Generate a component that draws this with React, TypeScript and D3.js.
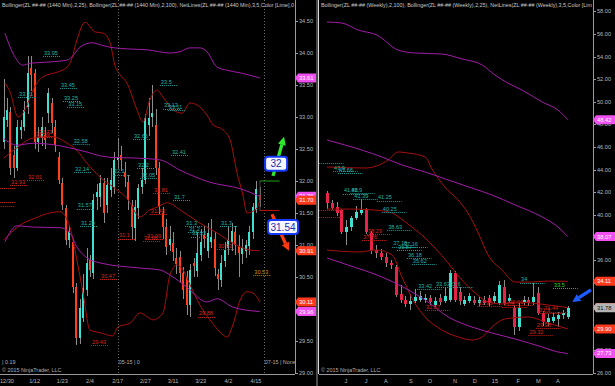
import * as d3 from 'd3';

type Bar = [number, number, number, number]; // open, high, low, close
type Pt = [number, number]; // bar index, price
type Level = [string, number, number]; // label, price, first bar
type Marker = [number, string]; // price, kind

// ---------- daily panel (12/29 .. 4/16) ----------
const dailyBars: Bar[] = [
  [32.61, 33.6, 32.5, 33.0], [32.95, 33.3, 32.85, 33.11], [33.08, 33.15, 32.1, 32.2], [32.41, 32.55, 32.05, 32.2],
  [32.2, 32.95, 32.15, 32.84], [32.8, 32.95, 32.65, 32.84], [32.84, 33.25, 32.78, 33.11], [33.16, 33.95, 33.05, 33.69],
  [33.77, 33.95, 33.4, 33.66], [33.69, 33.75, 32.5, 32.61], [32.61, 32.85, 32.45, 32.69], [32.69, 33.0, 32.55, 32.84],
  [32.72, 32.85, 32.5, 32.64], [33.06, 33.45, 32.9, 33.38], [33.22, 33.3, 32.75, 32.91], [32.84, 32.95, 32.45, 32.56],
  [32.38, 32.45, 31.95, 32.02], [31.97, 32.05, 31.55, 31.63], [31.58, 31.62, 31.0, 31.08], [31.08, 31.3, 30.95, 31.2],
  [31.05, 31.1, 30.25, 30.34], [30.34, 30.4, 29.43, 29.55], [29.55, 30.15, 29.45, 30.02], [29.86, 30.55, 29.8, 30.33],
  [30.3, 30.95, 30.2, 30.72], [30.77, 30.85, 30.5, 30.61], [30.56, 31.8, 30.47, 31.7], [31.75, 31.95, 31.55, 31.83],
  [31.75, 32.1, 31.6, 31.97], [31.97, 32.05, 31.35, 31.5], [31.63, 32.05, 31.5, 31.94], [31.86, 32.2, 31.75, 32.02],
  [31.91, 32.45, 31.8, 32.33], [32.33, 32.67, 32.2, 32.38], [32.41, 32.55, 32.15, 32.33], [32.14, 32.3, 31.9, 32.06],
  [31.98, 32.1, 31.55, 31.7], [31.63, 31.7, 31.1, 31.28], [31.27, 31.7, 31.06, 31.6], [31.58, 31.95, 31.4, 31.89],
  [31.91, 32.2, 31.8, 32.02], [32.02, 33.05, 31.95, 32.98], [32.87, 33.3, 32.7, 32.98], [33.0, 33.5, 32.85, 33.06],
  [32.88, 33.13, 32.1, 32.2], [32.2, 32.3, 31.48, 31.6], [31.5, 31.6, 31.1, 31.28], [31.28, 31.4, 30.85, 30.97],
  [31.0, 31.3, 30.9, 31.1], [31.03, 31.2, 30.75, 30.89], [30.8, 30.95, 30.55, 30.7], [30.81, 30.9, 30.4, 30.56],
  [30.56, 30.65, 30.15, 30.3], [30.5, 30.6, 29.9, 30.06], [30.06, 30.7, 29.88, 30.61], [30.72, 30.8, 30.5, 30.67],
  [30.6, 31.2, 30.5, 30.88], [30.85, 31.25, 30.75, 31.05], [31.15, 31.3, 30.95, 31.1], [30.9, 31.35, 30.8, 31.18],
  [31.05, 31.4, 30.95, 31.12], [31.1, 31.2, 30.52, 30.64], [30.55, 30.62, 30.3, 30.47], [30.45, 30.85, 30.35, 30.72],
  [30.75, 31.05, 30.65, 30.92], [30.95, 31.3, 30.85, 31.08], [31.05, 31.35, 30.9, 31.22], [31.2, 31.3, 30.85, 31.0],
  [30.98, 31.15, 30.5, 30.88], [30.86, 31.1, 30.7, 30.95], [30.9, 31.08, 30.8, 31.0], [30.98, 31.3, 30.85, 31.2],
  [31.2, 31.65, 31.1, 31.6], [31.55, 32.0, 31.5, 31.88], [31.78, 31.9, 31.6, 31.7],
];
const dailyTickIndex = [1, 9, 17, 25, 33, 41, 49, 57, 65, 73];
const dailyTickLabels = ['12/30', '1/12', '1/23', '2/4', '2/17', '2/27', '3/11', '3/23', '4/2', '4/15'];
const dailyYTicks = [29, 29.5, 30, 30.5, 31, 31.5, 32, 32.5, 33, 33.5, 34, 34.5];
const dailyRollIndex = [33, 75.2];
const dailyRollText = ['05-15 | 0', '07-15 | None'];

const dailyUpper25: Pt[] = [
  [0.4, 33.53], [1.9, 33.39], [4.2, 33.0], [6.2, 33.11], [8.5, 33.42], [11.4, 33.63], [15.5, 33.7], [18.4, 33.78],
  [19.8, 33.92], [21.2, 34.2], [23.6, 34.48], [26.4, 34.33], [28.8, 34.31], [30.8, 34.16], [32.2, 33.81], [33.7, 33.66],
  [35.7, 33.53], [38.6, 33.11], [40.3, 32.92], [42.3, 33.27], [44.4, 33.42], [46.1, 33.31], [49, 33.11], [51.6, 33.06],
  [53.9, 33.22], [55.9, 33.19], [58.8, 33.03], [60.5, 32.88], [63.4, 32.8], [65.5, 32.64], [67.5, 32.13], [69.2, 31.78],
  [70.4, 31.5], [71.8, 31.52], [73.3, 31.58], [74.1, 31.7],
];
const dailyMid25: Pt[] = [
  [0.1, 32.36], [3.9, 32.52], [8.5, 32.67], [14.3, 32.69], [18.4, 32.59], [21.2, 32.48], [24.1, 32.28], [27.9, 32.06],
  [31.6, 31.91], [35.7, 31.73], [39.5, 31.44], [42.3, 31.55], [44.4, 31.59], [47.3, 31.66], [51, 31.55], [56.8, 31.34],
  [61.7, 31.19], [66.3, 31.03], [71.2, 30.92], [74.1, 30.91],
];
const dailyLower25: Pt[] = [
  [0.1, 31.08], [4.8, 31.31], [9.1, 31.42], [13.4, 31.5], [16.3, 31.52], [19.2, 31.28], [21.2, 30.77], [23, 30.25],
  [25, 29.67], [27.9, 29.63], [31.6, 29.58], [33.1, 29.72], [36.6, 29.78], [39.5, 29.94], [41.5, 29.88], [43.2, 29.83],
  [46.1, 29.94], [48.1, 30.53], [50.1, 30.69], [51.9, 30.61], [53.9, 30.38], [56.8, 30.06], [59.7, 29.83], [62.6, 29.64],
  [64.6, 29.56], [66.3, 29.75], [68.4, 30.14], [70.4, 30.27], [72.1, 30.25], [74.1, 30.11],
];
const dailyUpper100: Pt[] = [
  [0.4, 34.31], [2.7, 34.0], [5.6, 33.81], [7.7, 33.84], [13.4, 33.86], [18.4, 33.89], [19.8, 33.94], [22.1, 34.09],
  [25.6, 34.16], [27.9, 34.13], [30.8, 34.09], [37.4, 34.06], [41.5, 34.05], [48.1, 34.0], [51, 34.02], [53.9, 34.08],
  [56.8, 34.08], [58.8, 34.02], [61.7, 33.78], [64.6, 33.73], [68.4, 33.69], [74.1, 33.61],
];
const dailyMid100: Pt[] = [
  [0.1, 32.66], [3.9, 32.56], [8.5, 32.59], [16.3, 32.55], [22.1, 32.48], [30.8, 32.37], [37.4, 32.36], [45.2, 32.33],
  [51, 32.17], [59.7, 31.98], [68.4, 31.88], [74.1, 31.76],
];
const dailyLower100: Pt[] = [
  [0.4, 31.05], [3.9, 31.3], [8.5, 31.28], [16.3, 31.27], [19.2, 31.19], [21.2, 30.97], [24.1, 30.8], [27.9, 30.72],
  [39.5, 30.64], [45.2, 30.61], [49, 30.5], [53, 30.34], [58.8, 30.11], [61.7, 30.16], [66.3, 30.03], [74.1, 29.96],
];
const dailyHighLevels: Level[] = [
  ['33.95', 33.95, 11.4], ['33.45', 33.45, 16.3], ['33.31', 33.31, 4.2], ['33.25', 33.25, 17.2], ['33.15', 33.15, 18.4],
  ['33.5', 33.5, 45.2], ['33.13', 33.13, 46.1], ['33.11', 33.11, 47.5], ['32.58', 32.58, 20], ['32.14', 32.14, 20.4],
  ['32.66', 32.66, 37.4], ['32.41', 32.41, 48.4], ['32.1', 32.1, 31.6], ['32.2', 32.2, 38.6], ['32.05', 32.05, 39.5],
  ['31.57', 31.57, 21.2], ['31.29', 31.29, 22.1], ['31.7', 31.7, 49], ['31.3', 31.3, 52.5], ['31.2', 31.2, 53.3],
  ['31.13', 31.13, 54.2], ['31.3', 31.3, 62.6],
];
const dailyLowLevels: Level[] = [
  ['', 31.89, -1.6], ['', 31.67, -1.6], ['', 31.61, -1.8], ['31.93', 31.93, 1.9], ['32.01', 32.01, 6.8],
  ['32.69', 32.69, 9.1], ['32.71', 32.71, 9.9], ['31.81', 31.81, 43.2], ['31.48', 31.48, 42.3], ['31.1', 31.1, 33.1],
  ['31.06', 31.06, 40.3], ['31.09', 31.09, 41.2], ['30.93', 30.93, 61.7], ['30.47', 30.47, 27.9], ['29.88', 29.88, 56.2],
  ['29.43', 29.43, 25.3],
];
const dailyOpenLevels: Level[] = [['30.53', 30.53, 72.2]];
const dailyMarkers: Marker[] = [
  [33.61, 'purple'], [31.76, 'purple'], [31.7, 'red'], [30.91, 'red'], [30.11, 'red'], [29.96, 'purple'],
];
// hand-drawn targets on the daily chart: [bar, price]
const targetUp = 32.0;
const targetDown = 31.54;
const targetSpan: Pt = [74, 79.8];
const arrowUp: [Pt, Pt] = [[77.9, 32.08], [81.1, 32.69]];
const arrowDown: [Pt, Pt] = [[77.6, 31.48], [82.5, 30.91]];
const boxUp: Pt = [78.8, 32.27];
const boxDown: Pt = [80.8, 31.28];

// ---------- weekly panel ----------
const weeklyBars: Bar[] = [
  [41.93, 42.1, 40.5, 41.04], [41.04, 41.3, 40.4, 40.6], [40.69, 41.1, 39.9, 40.16], [40.42, 40.5, 38.3, 38.48],
  [38.48, 39.5, 37.3, 38.92], [38.9, 39.9, 38.6, 39.7], [39.7, 40.8, 39.5, 40.25], [40.2, 41.4, 40.0, 40.4],
  [40.5, 40.6, 38.3, 38.5], [38.4, 38.6, 36.5, 36.9], [36.9, 37.3, 36.2, 36.6], [36.6, 37.0, 36.0, 36.3],
  [36.3, 36.6, 35.4, 35.7], [35.7, 36.0, 35.2, 35.6], [35.4, 35.6, 32.7, 32.9], [33.0, 33.8, 32.2, 32.5],
  [32.5, 32.8, 31.8, 32.1], [32.1, 33.0, 31.6, 32.4], [32.4, 33.4, 32.2, 32.7], [32.5, 33.3, 32.3, 32.8],
  [32.5, 33.0, 32.2, 32.6], [32.6, 32.9, 32.0, 32.3], [32.0, 32.7, 31.8, 32.4], [32.6, 33.0, 32.0, 32.3],
  [32.4, 33.6, 32.2, 32.8], [32.5, 35.1, 32.3, 34.85], [34.85, 35.0, 32.3, 32.5], [33.2, 33.6, 32.0, 32.4],
  [32.1, 32.8, 31.9, 32.5], [32.4, 33.1, 32.2, 32.8], [32.5, 32.8, 32.0, 32.2], [32.2, 32.7, 31.9, 32.5],
  [32.5, 32.8, 32.0, 32.2], [32.6, 32.9, 31.9, 32.2], [32.4, 33.2, 32.2, 32.8], [32.2, 34.1, 32.0, 33.8],
  [33.6, 34.2, 32.0, 32.2], [32.4, 33.0, 32.2, 32.6], [31.75, 32.0, 29.4, 30.07], [30.07, 32.2, 29.7, 31.75],
  [32.3, 32.8, 32.0, 32.5], [32.5, 32.7, 31.9, 32.2], [32.3, 34.0, 32.0, 32.7], [33.1, 33.6, 31.1, 31.3],
  [31.3, 31.5, 30.2, 30.5], [30.5, 31.2, 30.2, 30.9], [30.6, 31.3, 30.4, 31.0], [30.8, 31.4, 30.1, 31.1],
  [31.1, 31.6, 30.8, 31.3], [30.96, 31.9, 30.8, 31.78],
];
const weeklyTickIndex = [3.9, 8, 12, 17.1, 21, 26.1, 30.1, 34.2, 38.9, 43, 47];
const weeklyTickLabels = ['J', 'J', 'A', 'S', 'O', 'N', 'D', '15', 'F', 'M', 'A'];
const weeklyYTicks = [26, 28, 30, 32, 34, 36, 38, 40, 42, 44, 46, 48, 50, 52, 54, 56, 58];

const weeklyUpper100: Pt[] = [
  [0.06, 57.06], [3.1, 56.97], [6.4, 56.35], [10.2, 55.91], [14.5, 54.58], [17.9, 54.32], [23.4, 54.23], [27.5, 53.79],
  [31.6, 53.26], [34.2, 52.37], [36.8, 51.66], [39.7, 51.04], [43.8, 49.98], [47, 49.27], [49, 48.42],
];
const weeklyMid100: Pt[] = [
  [0.06, 46.62], [3.7, 46.18], [11.2, 45.12], [15.3, 44.41], [20, 43.79], [24.7, 43.08], [29.5, 42.37], [33.6, 41.75],
  [38.3, 40.87], [43.8, 39.81], [47, 38.92], [49, 38.07],
];
const weeklyLower100: Pt[] = [
  [0.06, 36.18], [4.3, 35.56], [11.2, 34.5], [15.9, 33.52], [20, 32.46], [24.7, 30.96], [29.5, 30.07], [33.6, 29.54],
  [38.3, 29.01], [43.8, 28.3], [47, 27.86], [49, 27.73],
];
const weeklyUpper25: Pt[] = [
  [0.06, 44.23], [7.8, 44.14], [12.5, 44.85], [14.5, 45.56], [16.5, 45.47], [20, 45.12], [21.4, 44.05], [24, 42.46],
  [26.7, 41.31], [28.7, 40.16], [30.8, 38.39], [32.8, 36.44], [35.6, 35.12], [38.3, 34.05], [41.7, 34.05], [45, 34.14],
  [49, 34.11],
];
const weeklyMid25: Pt[] = [
  [0.06, 40.51], [4.7, 40.51], [9.8, 40.42], [13.3, 40.16], [14.9, 39.72], [17.3, 38.92], [20, 37.95], [22, 37.06],
  [24.7, 35.73], [27.1, 34.41], [30.2, 33.08], [32.8, 32.28], [35.6, 32.11], [38.3, 32.28], [41.7, 32.19], [45, 32.02],
  [49, 31.79],
];
const weeklyLower25: Pt[] = [
  [0.06, 36.88], [6.4, 36.71], [10.2, 36.88], [13.3, 36.44], [15.3, 34.5], [17.9, 32.19], [20, 30.96], [23.4, 29.81],
  [26.7, 29.19], [29.5, 28.92], [31.6, 29.19], [33.6, 30.07], [35.6, 30.69], [37.6, 30.87], [40.9, 30.96], [45, 30.42],
  [49, 29.9],
];
const weeklyHighLevels: Level[] = [
  ['', 44.58, -1.6], ['43.9', 43.9, 1.3], ['43.66', 43.66, 2.3], ['41.88', 41.88, 3.3], ['41.9', 41.9, 4.8],
  ['41.39', 41.39, 5.4], ['41.25', 41.25, 10.2], ['40.25', 40.25, 11.2], ['38.63', 38.63, 12.3], ['37.18', 37.18, 13.3],
  ['37.16', 37.16, 15.5], ['36.87', 36.87, 14.3], ['36.18', 36.18, 16.3], ['35.62', 35.62, 17.3], ['33.42', 33.42, 18.4],
  ['33.63', 33.63, 22], ['33.6', 33.6, 24.8], ['34', 34, 39.3],
];
const weeklyLowLevels: Level[] = [
  ['', 40.4, -1.6], ['', 39.8, -1.6], ['38.29', 38.29, 8.2], ['37.76', 37.76, 7.2], ['31.57', 31.57, 20],
  ['31.95', 31.95, 30.6], ['31.8', 31.8, 35.7], ['32.01', 32.01, 36.9], ['31.44', 31.44, 44], ['31.3', 31.3, 43],
  ['29.98', 29.98, 42.5], ['29.32', 29.32, 41],
];
const weeklyTargetLevels: Level[] = [['33.5', 33.5, 46]];
const weeklyMarkers: Marker[] = [
  [48.42, 'purple'], [38.07, 'purple'], [34.11, 'red'], [31.79, 'red'], [31.78, 'gray'], [29.9, 'red'], [27.73, 'purple'],
];
const weeklyArrow: [Pt, Pt] = [[53.7, 33.35], [49.9, 32.28]];

const FONT = 'Liberation Sans, Arial, sans-serif';
const TEAL = '#22b2aa';
const RED_TXT = '#d8261c';
const BB25 = '#a80f0f';
const BB100 = '#a21ca8';
const AXIS_TXT = '#b8b8b8';
const markerFill: Record<string, string> = { purple: '#f050f0', red: '#ff3a1c', gray: '#b4b4b4' };

interface PanelProps {
  id: string;
  left: number;
  plotRight: number;
  xDomain: [number, number];
  xRange: [number, number];
  yDomain: [number, number];
  yRange: [number, number];
  bars: Bar[];
  bodyW: number;
  downColor: string;
  title: string;
  levels: { items: Level[]; color: string; txt: string; len: number }[];
  markers: Marker[];
  yTicks: number[];
  xTickIndex: number[];
  xTickLabels: string[];
  children?: (x: d3.ScaleLinear<number, number>, y: d3.ScaleLinear<number, number>) => any;
  bands: Pt[][][];
}

function Arrow({ from, to, color, w }: { from: [number, number]; to: [number, number]; color: string; w: number }) {
  const dx = to[0] - from[0];
  const dy = to[1] - from[1];
  const len = Math.hypot(dx, dy);
  const ux = dx / len;
  const uy = dy / len;
  const head = 8;
  const bx = to[0] - ux * head;
  const by = to[1] - uy * head;
  const px = -uy * 4;
  const py = ux * 4;
  return (
    <g>
      <line x1={from[0]} y1={from[1]} x2={bx} y2={by} stroke={color} strokeWidth={w} />
      <path d={`M${to[0]},${to[1]}L${bx + px},${by + py}L${bx - px},${by - py}Z`} fill={color} />
    </g>
  );
}

function Panel(p: PanelProps) {
  const x = d3.scaleLinear().domain(p.xDomain).range(p.xRange);
  const y = d3.scaleLinear().domain(p.yDomain).range(p.yRange);
  const line = d3.line<Pt>().x(d => x(d[0])).y(d => y(d[1])).curve(d3.curveMonotoneX);
  const bandColors = [BB25, BB100];
  const axisX = p.plotRight;
  const bottom = 374;

  return (
    <g>
      <defs>
        <clipPath id={p.id}>
          <rect x={p.left} y={0} width={p.plotRight - p.left} height={bottom} />
        </clipPath>
      </defs>
      <g clipPath={`url(#${p.id})`}>
        {/* candles */}
        <g shapeRendering="crispEdges">
          {p.bars.map((b, i) => {
            const [o, h, l, c] = b;
            const cx = Math.round(x(i));
            const top = y(Math.max(o, c));
            const bh = Math.max(1, y(Math.min(o, c)) - top);
            return (
              <g key={i}>
                <line x1={cx + 0.5} x2={cx + 0.5} y1={y(h)} y2={y(l)} stroke="#8c8c8c" />
                <rect x={cx - Math.floor(p.bodyW / 2)} y={top} width={p.bodyW} height={bh}
                  fill={c >= o ? '#40e0d0' : p.downColor} />
              </g>
            );
          })}
        </g>
        {/* bollinger bands */}
        {p.bands.map((set, k) =>
          set.map((pts, j) => (
            <path key={`${k}-${j}`} d={line(pts) || ''} fill="none" stroke={bandColors[k]} strokeWidth={1} />
          ))
        )}
        {/* net lines */}
        {p.levels.map((grp, g) =>
          grp.items.map(([t, v, s], j) => (
            <g key={`${g}-${j}`}>
              <line x1={x(s)} x2={x(s + grp.len)} y1={Math.round(y(v)) + 0.5} y2={Math.round(y(v)) + 0.5}
                stroke={grp.color} strokeDasharray="1,1" />
              <text x={x(s) + 1} y={y(v) - 1.2} fontSize={5.6} fill={grp.txt} fontFamily={FONT}>{t}</text>
            </g>
          ))
        )}
        {p.children && p.children(x, y)}
      </g>
      {/* title */}
      <text x={p.left + 2} y={6.5} fontSize={5.6} fill="#c8c8c8" fontFamily={FONT}
        textLength={p.plotRight - p.left - 3} lengthAdjust="spacingAndGlyphs">{p.title}</text>
      {/* axes */}
      <line x1={axisX + 0.5} x2={axisX + 0.5} y1={0} y2={bottom} stroke="#9a9a9a" />
      <line x1={p.left} x2={axisX} y1={bottom + 0.5} y2={bottom + 0.5} stroke="#9a9a9a" />
      {p.yTicks.map(t => (
        <g key={t}>
          <line x1={axisX} x2={axisX + 3} y1={Math.round(y(t)) + 0.5} y2={Math.round(y(t)) + 0.5} stroke="#9a9a9a" />
          <text x={axisX + 4} y={y(t) + 2} fontSize={5.6} fill={AXIS_TXT} fontFamily={FONT}>{t.toFixed(2)}</text>
        </g>
      ))}
      {p.xTickIndex.map((t, i) => (
        <text key={i} x={x(t)} y={382.5} fontSize={5.6} fill={AXIS_TXT} fontFamily={FONT} textAnchor="middle">
          {p.xTickLabels[i]}
        </text>
      ))}
      <text x={p.left + 2} y={372} fontSize={5.4} fill="#b0b0b0" fontFamily={FONT}>© 2015 NinjaTrader, LLC</text>
      {/* price markers */}
      {p.markers.map(([v, kind], i) => {
        const yy = y(v);
        const a = axisX;
        return (
          <g key={i}>
            <path d={`M${a},${yy}L${a + 3},${yy - 4.5}L${a + 22},${yy - 4.5}L${a + 22},${yy + 4.5}L${a + 3},${yy + 4.5}Z`}
              fill={markerFill[kind]} />
            <text x={a + 4} y={yy + 2} fontSize={5.8} fill={kind === 'gray' ? '#111' : '#fff'} fontFamily={FONT}>
              {v.toFixed(2)}
            </text>
          </g>
        );
      })}
    </g>
  );
}

function TargetBox({ cx, cy, label, w }: { cx: number; cy: number; label: string; w: number }) {
  return (
    <g>
      <rect x={cx - w / 2} y={cy - 7} width={w} height={14} rx={3} fill="#f6f6ff" stroke="#1438ff" strokeWidth={2} />
      <text x={cx} y={cy + 3.5} fontSize={10} fill="#1a2fb0" fontFamily={FONT} textAnchor="middle">{label}</text>
    </g>
  );
}

export default function App() {
  return (
    <svg width={615} height={386} style={{ position: 'fixed', left: 0, top: 0, background: '#000' }}>
      <rect x={0} y={0} width={615} height={386} fill="#000" />
      <Panel
        id="clipDaily"
        left={0}
        plotRight={295}
        xDomain={[0, 74]}
        xRange={[3.5, 259.5]}
        yDomain={[29, 34.5]}
        yRange={[373, 21]}
        bars={dailyBars}
        bodyW={2}
        downColor="#ff3f1e"
        title="Bollinger(ZL ##-## (1440 Min),2,25), Bollinger(ZL ##-## (1440 Min),2,100), NetLines(ZL ##-## (1440 Min),3,5,Color [Lime],0"
        bands={[[dailyUpper25, dailyMid25, dailyLower25], [dailyUpper100, dailyMid100, dailyLower100]]}
        levels={[
          { items: dailyHighLevels, color: '#1a9c96', txt: TEAL, len: 5 },
          { items: dailyLowLevels, color: '#c81e16', txt: RED_TXT, len: 5 },
          { items: dailyOpenLevels, color: '#c88000', txt: '#d89000', len: 5 },
        ]}
        markers={dailyMarkers}
        yTicks={dailyYTicks}
        xTickIndex={dailyTickIndex}
        xTickLabels={dailyTickLabels}
      >
        {(x, y) => (
          <g>
            {dailyRollIndex.map((r, i) => (
              <g key={i}>
                <line x1={Math.round(x(r)) + 0.5} x2={Math.round(x(r)) + 0.5} y1={0} y2={374}
                  stroke="#6a6a6a" strokeDasharray="1,2" />
                <text x={x(r) + 1} y={364} fontSize={5.4} fill="#b0b0b0" fontFamily={FONT}>{dailyRollText[i]}</text>
              </g>
            ))}
            <text x={2} y={364} fontSize={5.4} fill="#b0b0b0" fontFamily={FONT}>| 0.19</text>
            <line x1={x(targetSpan[0])} x2={x(targetSpan[1])} y1={y(targetUp)} y2={y(targetUp)} stroke="#1ea01e" />
            <line x1={x(targetSpan[0])} x2={x(targetSpan[1])} y1={y(targetDown)} y2={y(targetDown)} stroke="#c01010" />
            <line x1={x(targetSpan[0]) + 0.5} x2={x(targetSpan[0]) + 0.5} y1={y(targetUp)} y2={y(targetDown)} stroke="#444" />
          </g>
        )}
      </Panel>

      <Panel
        id="clipWeekly"
        left={319}
        plotRight={593}
        xDomain={[0, 49]}
        xRange={[326.7, 567.8]}
        yDomain={[26, 58]}
        yRange={[373, 11.4]}
        bars={weeklyBars}
        bodyW={3}
        downColor="#e8234a"
        title="Bollinger(ZL ##-## (Weekly),2,100), Bollinger(ZL ##-## (Weekly),2,25), NetLines(ZL ##-## (Weekly),3,5,Color [Lim"
        bands={[[weeklyUpper25, weeklyMid25, weeklyLower25], [weeklyUpper100, weeklyMid100, weeklyLower100]]}
        levels={[
          { items: weeklyHighLevels, color: '#1a9c96', txt: TEAL, len: 5 },
          { items: weeklyLowLevels, color: '#c81e16', txt: RED_TXT, len: 5 },
          { items: weeklyTargetLevels, color: '#22c022', txt: '#30d030', len: 5 },
        ]}
        markers={weeklyMarkers}
        yTicks={weeklyYTicks}
        xTickIndex={weeklyTickIndex}
        xTickLabels={weeklyTickLabels}
      />

      {/* panel divider */}
      <rect x={316} y={0} width={2} height={386} fill="#4a4a4a" />
      <line x1={318.5} x2={318.5} y1={0} y2={374} stroke="#d8d8d8" />

      {/* annotations, placed with the panels' scales */}
      {(() => {
        const x = d3.scaleLinear().domain([0, 74]).range([3.5, 259.5]);
        const y = d3.scaleLinear().domain([29, 34.5]).range([373, 21]);
        const xw = d3.scaleLinear().domain([0, 49]).range([326.7, 567.8]);
        const yw = d3.scaleLinear().domain([26, 58]).range([373, 11.4]);
        const pt = (p: Pt): [number, number] => [x(p[0]), y(p[1])];
        const ptw = (p: Pt): [number, number] => [xw(p[0]), yw(p[1])];
        return (
          <g>
            <Arrow from={pt(arrowUp[0])} to={pt(arrowUp[1])} color="#2ee82e" w={3.2} />
            <Arrow from={pt(arrowDown[0])} to={pt(arrowDown[1])} color="#ff3a10" w={3.2} />
            <TargetBox cx={x(boxUp[0])} cy={y(boxUp[1])} label="32" w={22} />
            <TargetBox cx={x(boxDown[0])} cy={y(boxDown[1])} label="31.54" w={30} />
            <Arrow from={ptw(weeklyArrow[0])} to={ptw(weeklyArrow[1])} color="#1e5cff" w={3.4} />
          </g>
        );
      })()}
    </svg>
  );
}
